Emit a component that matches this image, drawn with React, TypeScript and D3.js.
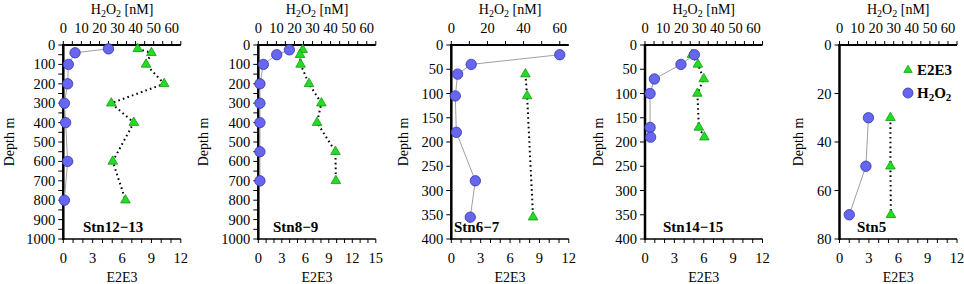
import React from "react";
import * as d3 from "d3";

// ---- Data ----
const stationNames = ["Stn12−13", "Stn8−9", "Stn6−7", "Stn14−15", "Stn5"];
const depthMax = [1000, 1000, 400, 400, 80];
const e2e3Max = [12, 15, 12, 12, 12];
const h2o2Max = 65;

const h2o2Depth1213 = [20, 40, 100, 200, 300, 400, 600, 800];
const h2o2Value1213 = [25, 6.5, 2.8, 2.4, 0.6, 1.3, 2.4, 0.6];
const e2e3Depth1213 = [20, 40, 100, 200, 300, 400, 600, 800];
const e2e3Value1213 = [7.6, 9.0, 8.45, 10.3, 4.9, 7.2, 5.05, 6.35];

const h2o2Depth89 = [25, 50, 100, 200, 300, 400, 550, 700];
const h2o2Value89 = [17.2, 10.2, 2.8, 0.9, 0.9, 0.9, 0.9, 0.9];
const e2e3Depth89 = [25, 50, 100, 200, 300, 400, 550, 700];
const e2e3Value89 = [5.67, 5.33, 5.4, 6.47, 8.05, 7.5, 9.85, 9.9];

const h2o2Depth67 = [20, 40, 60, 105, 180, 280, 355];
const h2o2Value67 = [60, 11, 3.5, 2.2, 2.8, 13.3, 10.5];
const e2e3Depth67 = [60, 105, 355];
const e2e3Value67 = [7.57, 7.74, 8.35];

const h2o2Depth1415 = [20, 40, 70, 100, 170, 190];
const h2o2Value1415 = [27.3, 19.9, 5.2, 2.8, 2.8, 3.1];
const e2e3Depth1415 = [20, 40, 70, 100, 170, 190];
const e2e3Value1415 = [4.8, 5.4, 6.0, 5.35, 5.5, 6.06];

const h2o2Depth5 = [30, 50, 70];
const h2o2Value5 = [16, 14.6, 5.4];
const e2e3Depth5 = [30, 50, 70];
const e2e3Value5 = [5.2, 5.2, 5.25];

const h2o2Depths = [h2o2Depth1213, h2o2Depth89, h2o2Depth67, h2o2Depth1415, h2o2Depth5];
const h2o2Values = [h2o2Value1213, h2o2Value89, h2o2Value67, h2o2Value1415, h2o2Value5];
const e2e3Depths = [e2e3Depth1213, e2e3Depth89, e2e3Depth67, e2e3Depth1415, e2e3Depth5];
const e2e3Values = [e2e3Value1213, e2e3Value89, e2e3Value67, e2e3Value1415, e2e3Value5];

const depthLabelStep = [100, 100, 50, 50, 20];
const depthTickStep = [50, 50, 50, 50, 20];
const topLabelStep = [10, 10, 20, 10, 10];
const topTickStep = [5, 5, 10, 5, 5];

// ---- Layout ----
const W = 964;
const H = 284;
const panelLeft = [63.3, 258.3, 451.3, 645, 839.5];
const panelWidth = 117.5;
const top = 45;
const bottom = 239;
const labelX = [83, 273, 454, 663, 857];
const depthTitleOffset = [49, 50, 43, 42, 37];
const FONT = "Liberation Serif, DejaVu Serif, Times New Roman, serif";
const fs = 14.5;

function range(step: number, max: number) {
  const out: number[] = [];
  for (let v = 0; v <= max + 1e-9; v += step) out.push(+v.toFixed(6));
  return out;
}

function Panel({ i }: { i: number }) {
  const x0 = panelLeft[i];
  const x1 = x0 + panelWidth;
  const y = d3.scaleLinear().domain([0, depthMax[i]]).range([top, bottom]);
  const xE = d3.scaleLinear().domain([0, e2e3Max[i]]).range([x0, x1]);
  const xH = d3.scaleLinear().domain([0, h2o2Max]).range([x0, x1]);

  const hPts = h2o2Depths[i].map((d, k) => [xH(h2o2Values[i][k]), y(d)] as [number, number]);
  const ePts = e2e3Depths[i].map((d, k) => [xE(e2e3Values[i][k]), y(d)] as [number, number]);
  const line = d3.line();
  const tri = d3.symbol(d3.symbolTriangle, 40)()!;

  const depthTicks = range(depthTickStep[i], depthMax[i]);
  const depthLabels = range(depthLabelStep[i], depthMax[i]);
  const topTicks = range(topTickStep[i], h2o2Max);
  const topLabels = range(topLabelStep[i], 60);
  const botTicks = range(1, e2e3Max[i]);
  const botLabels = range(3, e2e3Max[i]);
  const cx = (x0 + x1) / 2;

  return (
    <g fontFamily={FONT}>
      {/* top title */}
      <text x={cx} y={14} textAnchor="middle" fontSize={14} fontFamily={FONT}>
        H<tspan baselineShift="-25%" fontSize={10}>2</tspan>O
        <tspan baselineShift="-25%" fontSize={10}>2</tspan> [nM]
      </text>
      {/* top axis */}
      {topTicks.map((t) => (
        <line key={"tt" + t} x1={xH(t)} x2={xH(t)} y1={top} y2={top - 4} stroke="#000" strokeWidth={1} />
      ))}
      {topLabels.map((t) => (
        <text key={"tl" + t} x={xH(t)} y={32.5} textAnchor="middle" fontSize={fs} fontFamily={FONT}>
          {t}
        </text>
      ))}
      {/* left axis */}
      {depthTicks.map((t) => (
        <line key={"dt" + t} x1={x0} x2={x0 - 5} y1={y(t)} y2={y(t)} stroke="#000" strokeWidth={1} />
      ))}
      {depthLabels.map((t) => (
        <text key={"dl" + t} x={x0 - 8} y={y(t) + 5} textAnchor="end" fontSize={fs} fontFamily={FONT}>
          {t}
        </text>
      ))}
      {/* bottom axis */}
      {botTicks.map((t) => (
        <line key={"bt" + t} x1={xE(t)} x2={xE(t)} y1={bottom} y2={bottom + 4} stroke="#000" strokeWidth={1} />
      ))}
      {botLabels.map((t) => (
        <text key={"bl" + t} x={xE(t)} y={263} textAnchor="middle" fontSize={fs} fontFamily={FONT}>
          {t}
        </text>
      ))}
      <text x={cx} y={282} textAnchor="middle" fontSize={14} fontFamily={FONT}>
        E2E3
      </text>
      <line x1={x0 - 1} x2={x1} y1={bottom} y2={bottom} stroke="#000" strokeWidth={1.5} />
      <line x1={x0 - 1} x2={x1} y1={top} y2={top} stroke="#000" strokeWidth={2} />
      <line x1={x0} x2={x0} y1={top - 1} y2={bottom + 1} stroke="#000" strokeWidth={2.5} />
      {/* depth label */}
      <text
        transform={`translate(${x0 - depthTitleOffset[i]},${(top + bottom) / 2}) rotate(-90)`}
        textAnchor="middle"
        fontSize={14}
        fontFamily={FONT}
      >
        Depth m
      </text>
      {/* E2E3 */}
      <path d={line(ePts)!} fill="none" stroke="#000" strokeWidth={2} strokeDasharray="1.6,3.2" />
      {ePts.map((p, k) => (
        <path key={"e" + k} d={tri} transform={`translate(${p[0]},${p[1]})`} fill="#22dd22" stroke="#129a12" strokeWidth={0.8} />
      ))}
      {/* H2O2 */}
      <path d={line(hPts)!} fill="none" stroke="#a0a0a0" strokeWidth={1} />
      {hPts.map((p, k) => (
        <circle key={"h" + k} cx={p[0]} cy={p[1]} r={5.2} fill="#6666ee" stroke="#3333aa" strokeWidth={0.8} />
      ))}
      <text x={labelX[i]} y={232} fontSize={15} fontWeight="bold" fontFamily={FONT}>
        {stationNames[i]}
      </text>
    </g>
  );
}

export default function App() {
  const tri = d3.symbol(d3.symbolTriangle, 30)()!;
  return (
    <svg width={W} height={H} style={{ position: "absolute", left: 0, top: 0, background: "#fff" }}>
      <rect width={W} height={H} fill="#fff" />
      {stationNames.map((_, i) => (
        <Panel key={i} i={i} />
      ))}
      {/* legend */}
      <path d={tri} transform="translate(908,70)" fill="#22dd22" stroke="#129a12" strokeWidth={0.8} />
      <text x={917} y={75} fontSize={15} fontWeight="bold" fontFamily={FONT}>
        E2E3
      </text>
      <circle cx={908} cy={93} r={5} fill="#6666ee" stroke="#3333aa" strokeWidth={0.8} />
      <text x={917} y={98} fontSize={15} fontWeight="bold" fontFamily={FONT}>
        H<tspan baselineShift="-25%" fontSize={11}>2</tspan>O
        <tspan baselineShift="-25%" fontSize={11}>2</tspan>
      </text>
    </svg>
  );
}
